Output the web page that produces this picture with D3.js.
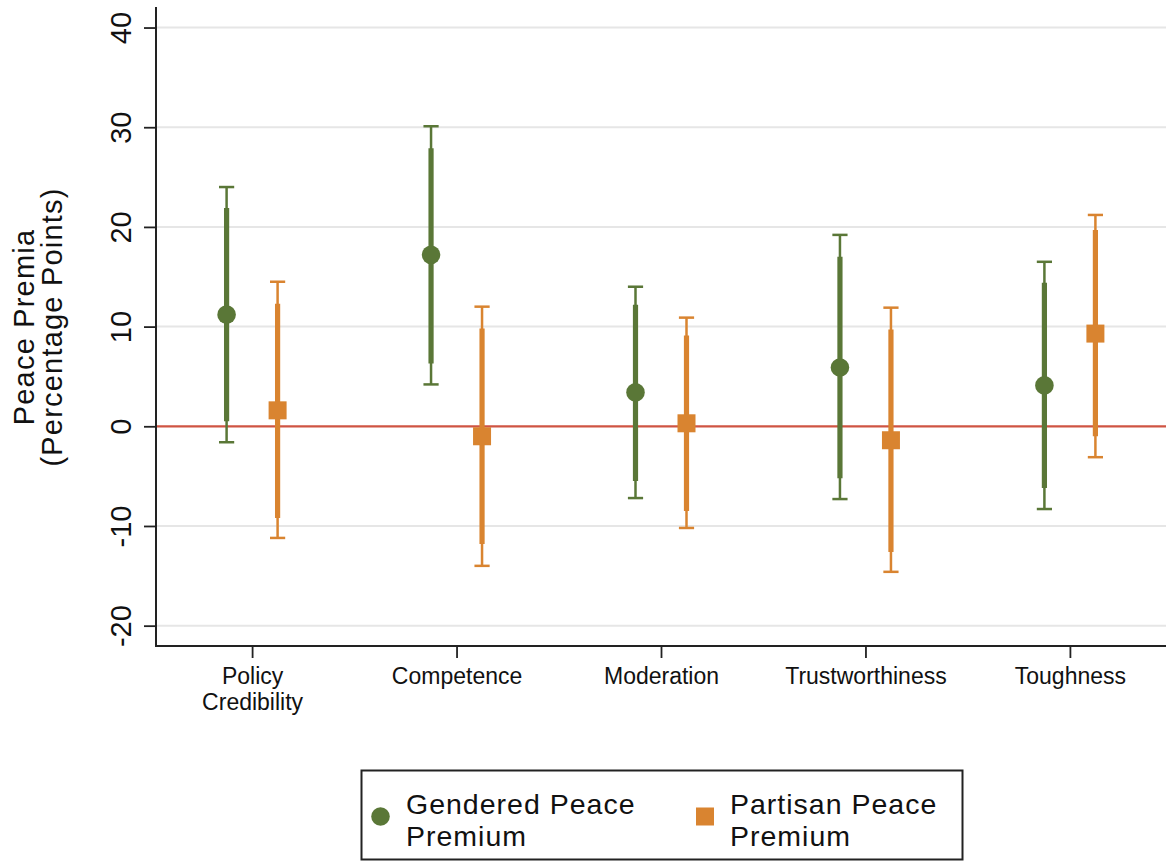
<!DOCTYPE html>
<html>
<head>
<meta charset="utf-8">
<script src="https://cdn.jsdelivr.net/npm/d3@7"></script>
<style>
  html, body { margin: 0; padding: 0; background: #fff; }
  svg { display: block; font-family: "Liberation Sans", Arial, Helvetica, sans-serif; }
</style>
</head>
<body>
<svg id="chart" width="1166" height="861"></svg>
<script>
// ---- data ----
const categories = ["Policy Credibility", "Competence", "Moderation", "Trustworthiness", "Toughness"];
const categoryLines = [["Policy", "Credibility"], ["Competence"], ["Moderation"], ["Trustworthiness"], ["Toughness"]];
const yTicks = [-20, -10, 0, 10, 20, 30, 40];

const genderedEst  = [11.2, 17.2, 3.4, 5.9, 4.1];
const genderedLo90 = [0.5, 6.3, -5.5, -5.2, -6.2];
const genderedHi90 = [21.9, 27.9, 12.2, 17.0, 14.4];
const genderedLo95 = [-1.6, 4.2, -7.2, -7.3, -8.3];
const genderedHi95 = [24.0, 30.1, 14.0, 19.2, 16.5];

const partisanEst  = [1.6, -1.0, 0.3, -1.4, 9.3];
const partisanLo90 = [-9.2, -11.8, -8.5, -12.6, -1.0];
const partisanHi90 = [12.3, 9.8, 9.1, 9.7, 19.7];
const partisanLo95 = [-11.2, -14.0, -10.2, -14.6, -3.1];
const partisanHi95 = [14.5, 12.0, 10.9, 11.9, 21.2];

const seriesNames = ["Gendered Peace Premium", "Partisan Peace Premium"];
const legendLines = [["Gendered Peace", "Premium"], ["Partisan Peace", "Premium"]];

// ---- style ----
const GREEN = "#5a7737";
const ORANGE = "#d98430";
const RED = "#cf5443";
const GRID = "#e6e6e6";
const AXIS = "#222";

const svg = d3.select("#chart");
const pLeft = 156, pRight = 1166, pTop = 7, pBottom = 646;

const x = d3.scalePoint().domain(categories).range([pLeft, pRight]).padding(0.47);
const y = d3.scaleLinear().domain([-22.04, 42.06]).range([pBottom, pTop]);
const offset = d3.scaleOrdinal().domain(seriesNames).range([-25.5, 25.5]);

// gridlines
svg.append("g").selectAll("line").data(yTicks.filter(d => d !== 0)).join("line")
  .attr("x1", pLeft).attr("x2", pRight)
  .attr("y1", d => y(d)).attr("y2", d => y(d))
  .attr("stroke", GRID).attr("stroke-width", 2);

// zero line
svg.append("line")
  .attr("x1", pLeft).attr("x2", pRight)
  .attr("y1", y(0)).attr("y2", y(0))
  .attr("stroke", RED).attr("stroke-width", 2.2);

// y axis
const yAxis = svg.append("g").attr("transform", `translate(${pLeft},0)`)
  .call(d3.axisLeft(y).tickValues(yTicks).tickSize(12).tickSizeOuter(0).tickFormat(d => String(d)));
yAxis.select(".domain").attr("stroke", AXIS).attr("stroke-width", 2)
  .attr("d", `M0,${pTop}V${pBottom + 1}`);
yAxis.selectAll(".tick line").attr("stroke", AXIS).attr("stroke-width", 1.8);
yAxis.selectAll(".tick text")
  .attr("font-size", 29).attr("fill", "#111")
  .attr("text-anchor", "middle")
  .attr("x", null).attr("dy", null)
  .attr("transform", "translate(-25,0) rotate(-90)");

// x axis
const xAxis = svg.append("g").attr("transform", `translate(0,${pBottom})`)
  .call(d3.axisBottom(x).tickSize(12).tickSizeOuter(0).tickFormat(""));
xAxis.select(".domain").attr("stroke", AXIS).attr("stroke-width", 2)
  .attr("d", `M${pLeft - 1},0H${pRight}`);
xAxis.selectAll(".tick line").attr("stroke", AXIS).attr("stroke-width", 1.8);
xAxis.selectAll(".tick").each(function(d, i) {
  const t = d3.select(this).append("text")
    .attr("text-anchor", "middle").attr("font-size", 23).attr("fill", "#111");
  categoryLines[i].forEach((line, j) => {
    t.append("tspan").attr("x", 0).attr("y", 38 + j * 26).text(line);
  });
});

// y title
const yt = svg.append("text")
  .attr("transform", `translate(0,327) rotate(-90)`)
  .attr("text-anchor", "middle").attr("font-size", 29).attr("fill", "#111")
  .attr("letter-spacing", 1.2);
yt.append("tspan").attr("x", 0).attr("y", 34).text("Peace Premia");
yt.append("tspan").attr("x", 0).attr("y", 62).text("(Percentage Points)");

// series
const series = [
  { name: seriesNames[0], color: GREEN, shape: "circle",
    est: genderedEst, lo90: genderedLo90, hi90: genderedHi90, lo95: genderedLo95, hi95: genderedHi95 },
  { name: seriesNames[1], color: ORANGE, shape: "square",
    est: partisanEst, lo90: partisanLo90, hi90: partisanHi90, lo95: partisanLo95, hi95: partisanHi95 }
];

series.forEach(s => {
  const g = svg.append("g");
  const rows = categories.map((c, i) => ({
    cx: x(c) + offset(s.name), est: s.est[i], lo90: s.lo90[i], hi90: s.hi90[i], lo95: s.lo95[i], hi95: s.hi95[i]
  }));
  g.selectAll(".thin").data(rows).join("line").attr("class", "thin")
    .attr("x1", d => d.cx).attr("x2", d => d.cx)
    .attr("y1", d => y(d.hi95)).attr("y2", d => y(d.lo95))
    .attr("stroke", s.color).attr("stroke-width", 2.5);
  ["hi95", "lo95"].forEach(k => {
    g.selectAll(".cap-" + k).data(rows).join("line").attr("class", "cap-" + k)
      .attr("x1", d => d.cx - 7.6).attr("x2", d => d.cx + 7.6)
      .attr("y1", d => y(d[k])).attr("y2", d => y(d[k]))
      .attr("stroke", s.color).attr("stroke-width", 2.5);
  });
  g.selectAll(".thick").data(rows).join("line").attr("class", "thick")
    .attr("x1", d => d.cx).attr("x2", d => d.cx)
    .attr("y1", d => y(d.hi90)).attr("y2", d => y(d.lo90))
    .attr("stroke", s.color).attr("stroke-width", 5.2);
  if (s.shape === "circle") {
    g.selectAll(".pt").data(rows).join("circle").attr("class", "pt")
      .attr("cx", d => d.cx).attr("cy", d => y(d.est)).attr("r", 9.3)
      .attr("fill", s.color);
  } else {
    g.selectAll(".pt").data(rows).join("rect").attr("class", "pt")
      .attr("x", d => d.cx - 9).attr("y", d => y(d.est) - 9)
      .attr("width", 18).attr("height", 18)
      .attr("fill", s.color);
  }
});

// legend
const lg = svg.append("g");
lg.append("rect").attr("x", 361.5).attr("y", 770.5).attr("width", 601).attr("height", 89)
  .attr("fill", "#fff").attr("stroke", "#222").attr("stroke-width", 2);
const legendX = [380.5, 705];
const legendTextX = [406, 730];
series.forEach((s, i) => {
  if (s.shape === "circle") {
    lg.append("circle").attr("cx", legendX[i]).attr("cy", 816.5).attr("r", 9.3).attr("fill", s.color);
  } else {
    lg.append("rect").attr("x", legendX[i] - 9).attr("y", 807.5).attr("width", 18).attr("height", 18).attr("fill", s.color);
  }
  const t = lg.append("text").attr("font-size", 28.5).attr("fill", "#111").attr("letter-spacing", 1);
  legendLines[i].forEach((line, j) => {
    t.append("tspan").attr("x", legendTextX[i]).attr("y", 814 + j * 32.2).text(line);
  });
});
</script>
</body>
</html>
